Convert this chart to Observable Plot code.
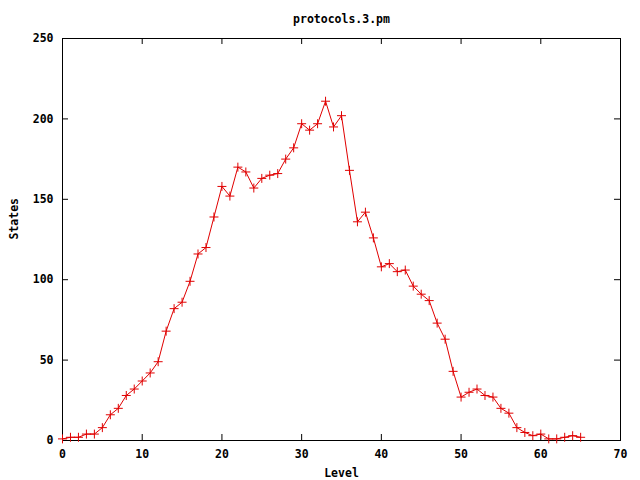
<!DOCTYPE html>
<html>
<head>
<meta charset="utf-8">
<script src="https://cdn.jsdelivr.net/npm/d3@7"></script>
<script src="https://cdn.jsdelivr.net/npm/@observablehq/plot@0.6"></script>
<style>
html, body { margin: 0; padding: 0; background: #fff; }
</style>
</head>
<body>
<div id="chart"></div>
<script>
const title = "protocols.3.pm";
const xLabel = "Level";
const yLabel = "States";
const levels = d3.range(0, 66);
const states = [1, 2, 2, 4, 4, 8, 16, 20, 28, 32, 37, 42, 49, 68, 82, 86, 99, 116, 120, 139,
  158, 152, 170, 167, 157, 163, 165, 166, 175, 182, 197, 193, 197, 211, 195, 202, 168, 136, 142, 126,
  108, 110, 105, 106, 96, 91, 87, 73, 63, 43, 27, 30, 32, 28, 27, 20, 17, 8, 5, 3,
  4, 1, 1, 2, 3, 2];
const xTicks = [0, 10, 20, 30, 40, 50, 60, 70];
const yTicks = [0, 50, 100, 150, 200, 250];

const data = levels.map((l, i) => ({level: l, states: states[i]}));

const W = 640, H = 480;
const mL = 62, mR = 20, mT = 38, mB = 40;
const pw = W - mL - mR, ph = H - mT - mB;
const tick = 6;
const font = "'DejaVu Sans Mono', 'Liberation Mono', monospace";

const chart = Plot.plot({
  width: W,
  height: H,
  marginLeft: mL,
  marginRight: mR,
  marginTop: mT,
  marginBottom: mB,
  style: {fontFamily: font, fontSize: "11.5px", fontWeight: "bold", background: "#fff", color: "#000"},
  x: {domain: [0, 70], ticks: xTicks},
  y: {domain: [0, 250], ticks: yTicks},
  marks: [
    Plot.frame({stroke: "#000"}),
    Plot.ruleX(xTicks, {x: d => d, insetTop: ph - tick, stroke: "#000"}),
    Plot.ruleX(xTicks, {x: d => d, insetBottom: ph - tick, stroke: "#000"}),
    Plot.ruleY(yTicks, {y: d => d, insetRight: pw - tick, stroke: "#000"}),
    Plot.ruleY(yTicks, {y: d => d, insetLeft: pw - tick, stroke: "#000"}),
    Plot.axisX(xTicks, {tickSize: 0, tickPadding: 9, label: null, fontWeight: "bold"}),
    Plot.axisY(yTicks, {tickSize: 0, tickPadding: 9, label: null, fontWeight: "bold"}),
    Plot.line(data, {x: "level", y: "states", stroke: "#e00000", strokeWidth: 1}),
    Plot.dot(data, {x: "level", y: "states", symbol: "plus", r: 3, stroke: "#e00000", strokeWidth: 1}),
    Plot.text([title], {text: d => d, frameAnchor: "top", lineAnchor: "middle", dy: -19, fontWeight: "bold"}),
    Plot.text([xLabel], {text: d => d, frameAnchor: "bottom", lineAnchor: "middle", dy: 33, fontWeight: "bold"}),
    Plot.text([yLabel], {text: d => d, frameAnchor: "left", dx: -48, rotate: -90, fontWeight: "bold"})
  ]
});
document.getElementById("chart").appendChild(chart);
</script>
</body>
</html>
